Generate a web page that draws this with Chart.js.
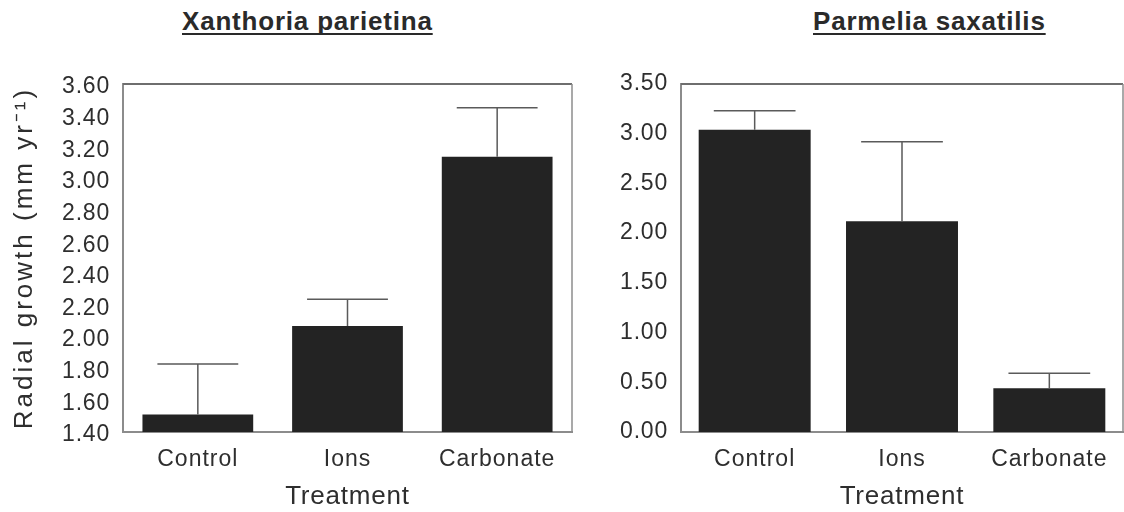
<!DOCTYPE html>
<html>
<head>
<meta charset="utf-8">
<script src="https://cdn.jsdelivr.net/npm/chart.js@4.4.1/dist/chart.umd.min.js"></script>
<style>
  html, body { margin: 0; padding: 0; background: #ffffff; overflow: hidden; }
  #page { position: relative; width: 1124px; height: 512px; }
  .panel { position: absolute; top: 0; height: 512px; }
  .heading {
    position: absolute; top: 8px; margin: 0;
    font-family: "Liberation Sans", Arial, sans-serif;
    font-weight: bold; font-size: 26px; line-height: 26px;
    letter-spacing: 0.8px; color: #2a2a2a; white-space: nowrap;
    text-decoration: underline; text-decoration-thickness: 2px;
    text-underline-offset: 3px; text-decoration-skip-ink: none;
  }
</style>
</head>
<body>
<div id="page">
  <div class="heading" style="left:182px;">Xanthoria parietina</div>
  <div class="heading" style="left:813px;">Parmelia saxatilis</div>
  <div class="panel" style="left:0; width:580px;"><canvas id="xanthoria" width="580" height="512"></canvas></div>
  <div class="panel" style="left:575px; width:549px;"><canvas id="parmelia" width="549" height="512"></canvas></div>
</div>
<script>
// Treatments shared by both species
const categories = ['Control', 'Ions', 'Carbonate'];

// Xanthoria parietina: mean radial growth and top of the error bar (mm/yr)
const xanthoriaMeans = [1.51, 2.07, 3.14];
const xanthoriaUpper = [1.83, 2.24, 3.45];

// Parmelia saxatilis: mean radial growth and top of the error bar (mm/yr)
const parmeliaMeans = [3.04, 2.12, 0.44];
const parmeliaUpper = [3.23, 2.92, 0.59];

// Value axes
const xanthoriaAxis = { min: 1.4, max: 3.6, step: 0.2 };
const parmeliaAxis = { min: 0, max: 3.5, step: 0.5 };

const axisTitleX = 'Treatment';
const axisTitleY = 'Radial growth (mm yr\u207B\u00B9)';

const FONT = '"Liberation Sans", Arial, sans-serif';
const TEXT = '#2e2e2e';
const BAR = '#232323';
const AXIS_LINE = '#8c8c8c';

// Letter spacing per scale: separate values for tick labels and axis title
const spacingPlugin = {
  id: 'spacing',
  beforeDraw(chart, args, opts) {
    Object.values(chart.scales).forEach((scale) => {
      if (scale.$spaced) return;
      const s = (opts && opts[scale.id]) || {};
      const wrap = (name, px) => {
        const orig = scale[name];
        scale[name] = function (...a) {
          const ctx = this.ctx;
          const prev = ctx.letterSpacing;
          ctx.letterSpacing = (px || 0) + 'px';
          const r = orig.apply(this, a);
          ctx.letterSpacing = prev;
          return r;
        };
      };
      wrap('drawLabels', s.ticks);
      wrap('drawTitle', s.title);
      scale.$spaced = true;
    });
  }
};

// Top and right edges of the plot frame
const framePlugin = {
  id: 'frame',
  afterDraw(chart) {
    const { ctx, chartArea: a } = chart;
    ctx.save();
    ctx.strokeStyle = '#6e6e6e';
    ctx.lineWidth = 2;
    ctx.beginPath();
    ctx.moveTo(a.left, a.top);
    ctx.lineTo(a.right, a.top);
    ctx.stroke();
    ctx.strokeStyle = AXIS_LINE;
    ctx.lineWidth = 1.5;
    ctx.beginPath();
    ctx.moveTo(a.right, a.top);
    ctx.lineTo(a.right, a.bottom);
    ctx.stroke();
    ctx.restore();
  }
};

// Upper error bars: stem from the bar top to the upper value, with a cap
const errorBarPlugin = {
  id: 'errorBars',
  afterDatasetsDraw(chart, args, opts) {
    const upper = opts.upper || [];
    const meta = chart.getDatasetMeta(0);
    const yScale = chart.scales.y;
    const ctx = chart.ctx;
    ctx.save();
    ctx.strokeStyle = '#5a5a5a';
    ctx.lineWidth = 1.5;
    meta.data.forEach((bar, i) => {
      if (upper[i] == null) return;
      const yTop = yScale.getPixelForValue(upper[i]);
      const half = bar.width * 0.365;
      ctx.beginPath();
      ctx.moveTo(bar.x, bar.y);
      ctx.lineTo(bar.x, yTop);
      ctx.moveTo(bar.x - half, yTop);
      ctx.lineTo(bar.x + half, yTop);
      ctx.stroke();
    });
    ctx.restore();
  }
};

function makeChart(id, means, upper, axis, opts) {
  return new Chart(document.getElementById(id), {
    type: 'bar',
    data: {
      labels: categories,
      datasets: [{
        data: means,
        backgroundColor: BAR,
        borderWidth: 0,
        barPercentage: opts.barPct,
        categoryPercentage: 1
      }]
    },
    options: {
      responsive: false,
      animation: false,
      events: [],
      layout: { padding: { top: 84, right: opts.padRight, bottom: 0, left: 0 } },
      plugins: {
        legend: { display: false },
        tooltip: { enabled: false },
        title: { display: false },
        errorBars: { upper: upper },
        spacing: { x: { ticks: 1, title: 0.8 }, y: { ticks: 0.8, title: 3 } }
      },
      scales: {
        x: {
          grid: { display: false, drawTicks: false },
          border: { display: true, color: AXIS_LINE, width: 2 },
          ticks: { color: TEXT, padding: 14, font: { family: FONT, size: 23 } },
          title: {
            display: true, text: axisTitleX, color: TEXT,
            padding: { top: 0, bottom: 0 },
            font: { family: FONT, size: 26 }
          },
          afterFit(s) { s.height = 80; }
        },
        y: {
          min: axis.min,
          max: axis.max,
          grid: { display: false, drawTicks: false },
          border: { display: true, color: AXIS_LINE, width: 2 },
          ticks: {
            stepSize: axis.step,
            color: TEXT,
            padding: 13,
            labelOffset: opts.labelOffset,
            font: { family: FONT, size: 23 },
            callback: (v) => Number(v).toFixed(2)
          },
          title: {
            display: opts.showYTitle, text: axisTitleY, color: TEXT,
            padding: { top: 9, bottom: 0 },
            font: { family: FONT, size: 26 }
          },
          afterFit(s) { s.width = opts.yWidth; }
        }
      }
    },
    plugins: [spacingPlugin, framePlugin, errorBarPlugin]
  });
}

makeChart('xanthoria', xanthoriaMeans, xanthoriaUpper, xanthoriaAxis,
  { barPct: 0.74, padRight: 8, yWidth: 123, showYTitle: true, labelOffset: 3 });
makeChart('parmelia', parmeliaMeans, parmeliaUpper, parmeliaAxis,
  { barPct: 0.76, padRight: 1, yWidth: 106, showYTitle: false, labelOffset: 0 });
</script>
</body>
</html>
